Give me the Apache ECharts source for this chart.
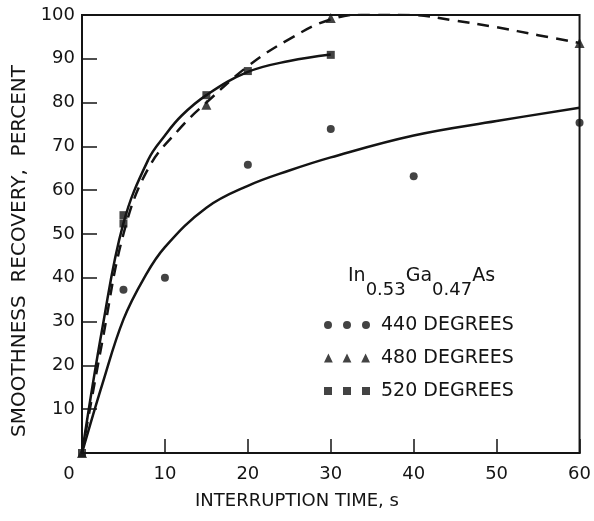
<!DOCTYPE html>
<html>
<head>
<meta charset="utf-8">
<script src="https://cdn.jsdelivr.net/npm/echarts@6/dist/echarts.min.js"></script>
<style>
html,body{margin:0;padding:0;background:#fff;}
#chart{width:594px;height:521px;}
</style>
</head>
<body>
<div id="chart"></div>
<script>
// ---- data ----
var xTicks = [0, 10, 20, 30, 40, 50, 60];
var yTicks = [10, 20, 30, 40, 50, 60, 70, 80, 90, 100];

// measured points
var pts440 = [[5, 37.3], [10, 40], [20, 65.8], [30, 74], [40, 63.2], [60, 75.4]];
var pts480 = [[0, 0], [15, 79.5], [30, 99.3], [60, 93.6]];
var pts520 = [[0, 0], [5, 54.3], [5, 52.4], [15, 81.7], [20, 87.2], [30, 90.9]];

// fitted curves
var curve440 = [[0, 0], [2.5, 16], [5, 30.5], [7.5, 40], [10, 47], [15, 56], [20, 61], [25, 64.5], [30, 67.5], [40, 72.5], [50, 75.8], [60, 78.8]];
var curve520 = [[0, 0], [2.5, 29], [5, 52.5], [8, 67], [10, 72.5], [12, 77], [15, 81.7], [20, 87], [25, 89.5], [30, 91]];
var curve480 = [[0, 0], [2.5, 26], [5, 50], [8, 65], [12, 74.5], [15, 80], [20, 88.3], [25, 94.5], [30, 99], [35, 100.2], [40, 100], [45, 98.7], [50, 97.2], [55, 95.4], [60, 93.6]];

var seriesNames = ['440 DEGREES', '480 DEGREES', '520 DEGREES'];
var xTitle = 'INTERRUPTION TIME, s';
var yTitle = 'SMOOTHNESS  RECOVERY,  PERCENT';

// ---- chart ----
var FONT = 'DejaVu Sans';
var INK = '#141414';
var chart = echarts.init(document.getElementById('chart'), null, {renderer: 'canvas'});

var iconCircles = 'path://M0,4.5A4,4,0,1,1,8,4.5A4,4,0,1,1,0,4.5Z M19,4.5A4,4,0,1,1,27,4.5A4,4,0,1,1,19,4.5Z M38,4.5A4,4,0,1,1,46,4.5A4,4,0,1,1,38,4.5Z';
var iconTriangles = 'path://M4,0L8.5,9L-0.5,9Z M23,0L27.5,9L18.5,9Z M42,0L46.5,9L37.5,9Z';
var iconSquares = 'path://M0,0.5L8,0.5L8,8.5L0,8.5Z M19,0.5L27,0.5L27,8.5L19,8.5Z M38,0.5L46,0.5L46,8.5L38,8.5Z';

var option = {
  animation: false,
  backgroundColor: '#fff',
  grid: {left: 82, right: 14, top: 15, bottom: 68, show: true, borderColor: INK, borderWidth: 2},
  title: {
    text: '{m|In}{s|0.53}{m|Ga}{s|0.47}{m|As}',
    left: 343, top: 262,
    textStyle: {
      fontFamily: FONT, fontWeight: 'normal', fontSize: 19, color: INK,
      rich: {
        m: {fontFamily: FONT, fontWeight: 'normal', fontSize: 19, color: INK, lineHeight: 32, verticalAlign: 'top'},
        s: {fontFamily: FONT, fontWeight: 'normal', fontSize: 18, color: INK, lineHeight: 32, verticalAlign: 'bottom'}
      }
    }
  },
  legend: {
    orient: 'vertical',
    left: 319, top: 310,
    itemWidth: 46, itemHeight: 10, itemGap: 13,
    data: [
      {name: seriesNames[0], icon: iconCircles},
      {name: seriesNames[1], icon: iconTriangles},
      {name: seriesNames[2], icon: iconSquares}
    ],
    textStyle: {fontFamily: FONT, fontSize: 19, color: INK, lineHeight: 20, padding: [0, 0, 0, 6]}
  },
  xAxis: {
    type: 'value', min: 0, max: 60, interval: 10,
    axisLine: {lineStyle: {color: INK, width: 2}},
    axisTick: {inside: true, length: 14, lineStyle: {color: INK, width: 1.5}},
    splitLine: {show: false},
    axisLabel: {
      fontFamily: FONT, fontSize: 18, color: INK, margin: 12,
      formatter: function (v) { return xTicks.indexOf(v) >= 0 ? (v === 0 ? '{z|0}' : String(v)) : ''; },
      rich: {z: {fontFamily: FONT, fontSize: 18, color: INK, padding: [0, 26, 0, 0]}}
    }
  },
  yAxis: {
    type: 'value', min: 0, max: 100, interval: 10,
    axisLine: {lineStyle: {color: INK, width: 2}},
    axisTick: {inside: true, length: 15, lineStyle: {color: INK, width: 1.5}},
    splitLine: {show: false},
    axisLabel: {
      fontFamily: FONT, fontSize: 18, color: INK, margin: 7,
      formatter: function (v) { return yTicks.indexOf(v) >= 0 ? String(v) : ''; }
    }
  },
  graphic: [
    {type: 'text', x: 20, y: 251, rotation: Math.PI / 2,
     style: {text: yTitle, font: '20px "DejaVu Sans"', fill: INK, align: 'center', verticalAlign: 'middle', textAlign: 'center', textVerticalAlign: 'middle'}},
    {type: 'text', x: 297, y: 501,
     style: {text: xTitle, font: '18px "DejaVu Sans"', fill: INK, align: 'center', verticalAlign: 'middle', textAlign: 'center', textVerticalAlign: 'middle'}}
  ],
  series: [
    {type: 'line', data: curve440, smooth: 0.4, showSymbol: false, lineStyle: {color: INK, width: 2.5}, silent: true, z: 2},
    {type: 'line', data: curve520, smooth: 0.4, showSymbol: false, lineStyle: {color: INK, width: 2.5}, silent: true, z: 2},
    {type: 'line', data: curve480, smooth: 0.4, showSymbol: false, lineStyle: {color: INK, width: 2.5, type: [12, 8]}, silent: true, z: 2},
    {type: 'scatter', name: seriesNames[0], data: pts440, symbol: 'circle', symbolSize: 8, itemStyle: {color: INK}, z: 3},
    {type: 'scatter', name: seriesNames[1], data: pts480, symbol: 'triangle', symbolSize: 10, itemStyle: {color: INK}, z: 3},
    {type: 'scatter', name: seriesNames[2], data: pts520, symbol: 'rect', symbolSize: 8, itemStyle: {color: INK}, z: 3}
  ]
};
chart.setOption(option);
</script>
</body>
</html>
